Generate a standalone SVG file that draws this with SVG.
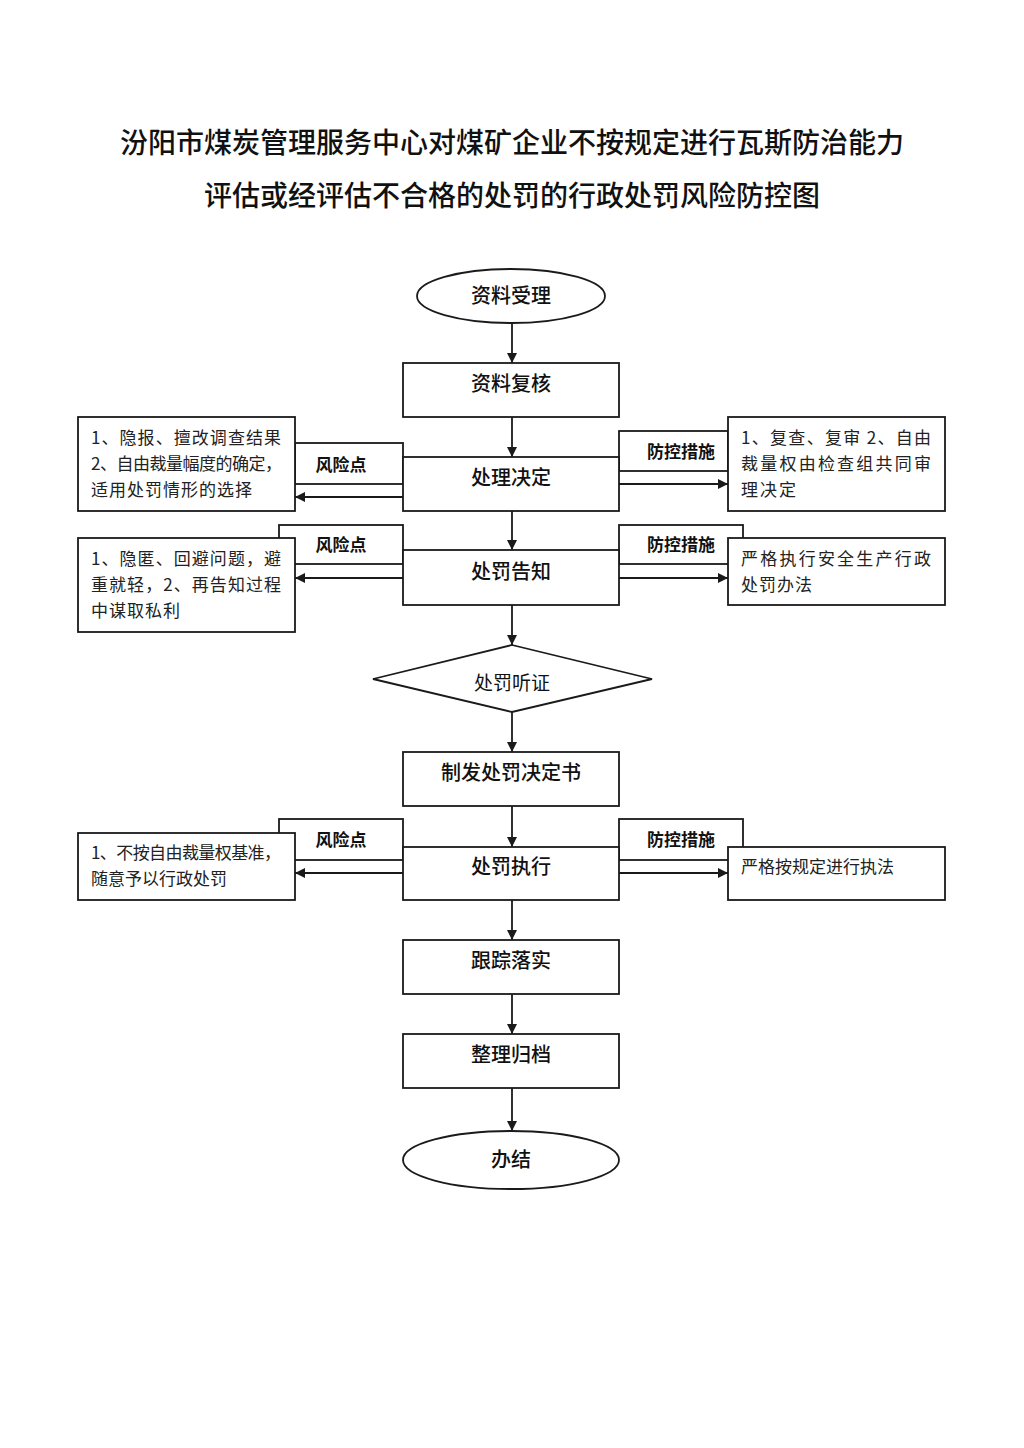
<svg xmlns="http://www.w3.org/2000/svg" width="1024" height="1448" viewBox="0 0 1024 1448">
<defs>
<marker id="ah" viewBox="0 0 10 10" refX="10" refY="5" markerWidth="10" markerHeight="10" markerUnits="userSpaceOnUse" orient="auto">
<path d="M0,0 L10,5 L0,10 z" fill="#1a1a1a"/>
</marker>
<style>
.shape{fill:#fff;stroke:#1a1a1a;stroke-width:1.8}
.lbl{fill:#fff;stroke:#1a1a1a;stroke-width:1.8}
.conn{fill:none;stroke:#1a1a1a;stroke-width:1.8}
.title{font-family:"Noto Sans CJK SC","Noto Sans CJK TC",sans-serif;font-size:28px;font-weight:500;fill:#111;text-anchor:middle}
.main{font-family:"Noto Sans CJK SC",sans-serif;font-size:20px;font-weight:500;fill:#111;text-anchor:middle}
.tag{font-family:"Noto Sans CJK SC",sans-serif;font-size:17px;font-weight:700;fill:#111;text-anchor:middle}
.side{font-family:"Noto Sans CJK SC",sans-serif;font-size:17px;fill:#222}
</style>
</defs>
<rect width="1024" height="1448" fill="#fff"/>
<g id="title">
<text class="title" x="512" y="153">汾阳市煤炭管理服务中心对煤矿企业不按规定进行瓦斯防治能力</text>
<text class="title" x="512" y="206">评估或经评估不合格的处罚的行政处罚风险防控图</text>
</g>
<g id="tags">
<g id="tag-risk-1"><rect class="lbl" x="295" y="443" width="108" height="41"/><text class="tag" x="341" y="471">风险点</text></g>
<g id="tag-ctrl-1"><rect class="lbl" x="619" y="431" width="109" height="40"/><text class="tag" x="681" y="458">防控措施</text></g>
<g id="tag-risk-2"><rect class="lbl" x="279" y="525" width="124" height="39"/><text class="tag" x="341" y="551">风险点</text></g>
<g id="tag-ctrl-2"><rect class="lbl" x="619" y="525" width="124" height="39"/><text class="tag" x="681" y="551">防控措施</text></g>
<g id="tag-risk-3"><rect class="lbl" x="279" y="819" width="124" height="41"/><text class="tag" x="341" y="846">风险点</text></g>
<g id="tag-ctrl-3"><rect class="lbl" x="619" y="819" width="124" height="41"/><text class="tag" x="681" y="846">防控措施</text></g>
</g>
<g id="connectors">
<line class="conn" x1="512" y1="323" x2="512" y2="363" marker-end="url(#ah)"/>
<line class="conn" x1="512" y1="417" x2="512" y2="457" marker-end="url(#ah)"/>
<line class="conn" x1="512" y1="511" x2="512" y2="550" marker-end="url(#ah)"/>
<line class="conn" x1="512" y1="605" x2="512" y2="645" marker-end="url(#ah)"/>
<line class="conn" x1="512" y1="712" x2="512" y2="752" marker-end="url(#ah)"/>
<line class="conn" x1="512" y1="806" x2="512" y2="847" marker-end="url(#ah)"/>
<line class="conn" x1="512" y1="900" x2="512" y2="940" marker-end="url(#ah)"/>
<line class="conn" x1="512" y1="994" x2="512" y2="1034" marker-end="url(#ah)"/>
<line class="conn" x1="512" y1="1088" x2="512" y2="1131" marker-end="url(#ah)"/>
<line class="conn" x1="403" y1="497" x2="295" y2="497" marker-end="url(#ah)"/>
<line class="conn" x1="619" y1="484" x2="728" y2="484" marker-end="url(#ah)"/>
<line class="conn" x1="403" y1="578" x2="295" y2="578" marker-end="url(#ah)"/>
<line class="conn" x1="619" y1="578" x2="728" y2="578" marker-end="url(#ah)"/>
<line class="conn" x1="403" y1="873" x2="295" y2="873" marker-end="url(#ah)"/>
<line class="conn" x1="619" y1="873" x2="728" y2="873" marker-end="url(#ah)"/>
</g>
<g id="n-start"><ellipse class="shape" cx="511" cy="296" rx="94" ry="27"/><text class="main" x="511" y="303">资料受理</text></g>
<g id="n-review"><rect class="shape" x="403" y="363" width="216" height="54"/><text class="main" x="511" y="391">资料复核</text></g>
<g id="n-decide"><rect class="shape" x="403" y="457" width="216" height="54"/><text class="main" x="511" y="485">处理决定</text></g>
<g id="n-notify"><rect class="shape" x="403" y="550" width="216" height="55"/><text class="main" x="511" y="579">处罚告知</text></g>
<g id="n-hearing"><polygon class="shape" points="512,645 652,679 512,712 373,679"/><text class="main" x="512" y="690" style="font-size:19px;font-weight:400">处罚听证</text></g>
<g id="n-issue"><rect class="shape" x="403" y="752" width="216" height="54"/><text class="main" x="511" y="780">制发处罚决定书</text></g>
<g id="n-exec"><rect class="shape" x="403" y="847" width="216" height="53"/><text class="main" x="511" y="874">处罚执行</text></g>
<g id="n-track"><rect class="shape" x="403" y="940" width="216" height="54"/><text class="main" x="511" y="968">跟踪落实</text></g>
<g id="n-archive"><rect class="shape" x="403" y="1034" width="216" height="54"/><text class="main" x="511" y="1062">整理归档</text></g>
<g id="n-end"><ellipse class="shape" cx="511" cy="1160" rx="108" ry="29"/><text class="main" x="511" y="1167">办结</text></g>
<g id="risk-1"><rect class="shape" x="78" y="417" width="217" height="94"/>
<text class="side" x="91" y="444" textLength="190" lengthAdjust="spacing">1、隐报、擅改调查结果</text>
<text class="side" x="91" y="470" textLength="191" lengthAdjust="spacing">2、自由裁量幅度的确定，</text>
<text class="side" x="91" y="496" textLength="161" lengthAdjust="spacing">适用处罚情形的选择</text></g>
<g id="ctrl-1"><rect class="shape" x="728" y="417" width="217" height="94"/>
<text class="side" x="741" y="444" textLength="190" lengthAdjust="spacing">1、复查、复审 2、自由</text>
<text class="side" x="741" y="470" textLength="190" lengthAdjust="spacing">裁量权由检查组共同审</text>
<text class="side" x="741" y="496" textLength="55" lengthAdjust="spacing">理决定</text></g>
<g id="risk-2"><rect class="shape" x="78" y="538" width="217" height="94"/>
<text class="side" x="91" y="565" textLength="190" lengthAdjust="spacing">1、隐匿、回避问题，避</text>
<text class="side" x="91" y="591" textLength="190" lengthAdjust="spacing">重就轻，2、再告知过程</text>
<text class="side" x="91" y="617" textLength="89" lengthAdjust="spacing">中谋取私利</text></g>
<g id="ctrl-2"><rect class="shape" x="728" y="538" width="217" height="67"/>
<text class="side" x="741" y="565" textLength="190" lengthAdjust="spacing">严格执行安全生产行政</text>
<text class="side" x="741" y="591" textLength="71" lengthAdjust="spacing">处罚办法</text></g>
<g id="risk-3"><rect class="shape" x="78" y="833" width="217" height="67"/>
<text class="side" x="91" y="859" textLength="190" lengthAdjust="spacing">1、不按自由裁量权基准，</text>
<text class="side" x="91" y="885">随意予以行政处罚</text></g>
<g id="ctrl-3"><rect class="shape" x="728" y="847" width="217" height="53"/>
<text class="side" x="741" y="873">严格按规定进行执法</text></g>
</svg>
